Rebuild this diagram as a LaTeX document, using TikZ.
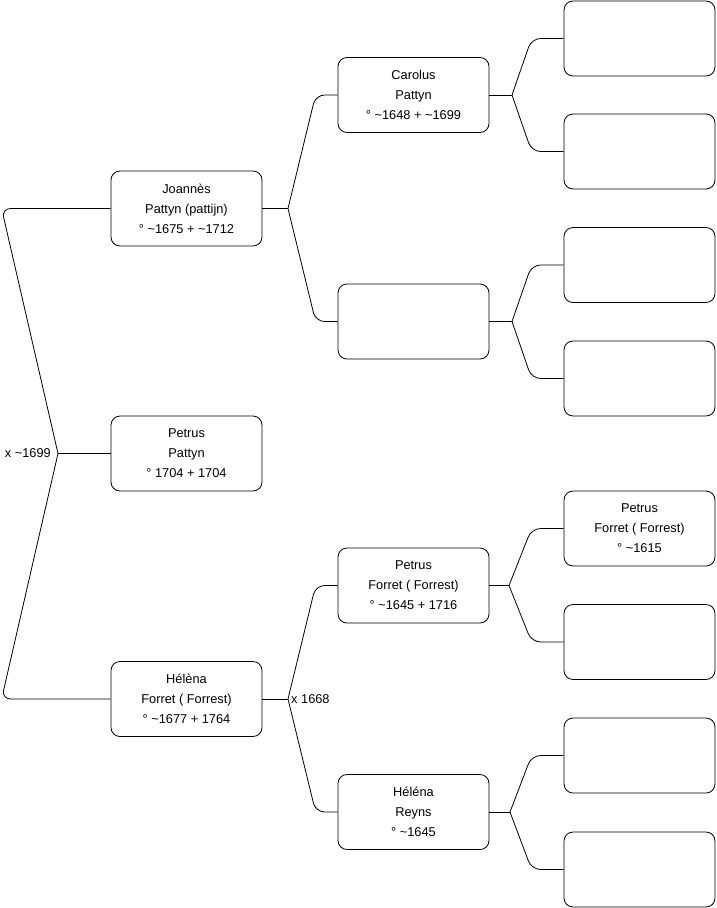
\documentclass[tikz,border=0pt]{standalone}
\usepackage{fontspec}
\setmainfont{Liberation Sans}
\usepackage{tikz}
\usetikzlibrary{positioning}

\begin{document}
\begin{tikzpicture}[
  x=1pt, y=-1pt,
  person/.style={draw,rounded corners=9pt,align=center,minimum width=151pt,minimum height=75pt,line width=0.8pt,font=\fontsize{12.8}{20}\selectfont,inner sep=0pt},
  link/.style={line width=0.8pt,rounded corners=9pt},
  note/.style={font=\fontsize{12.8}{14}\selectfont,inner sep=1pt}
]
\useasboundingbox (0,0) rectangle (716,908);

\node[person] (joannes) at (186.5,208.5) {Joannès\\Pattyn (pattijn)\\° \textasciitilde1675 + \textasciitilde1712};
\node[person] (petrus) at (186.5,453.5) {Petrus\\Pattyn\\° 1704 + 1704};
\node[person] (helena) at (186.5,699) {Hélèna\\Forret ( Forrest)\\° \textasciitilde1677 + 1764};

\node[person] (carolus) at (413.5,95) {Carolus\\Pattyn\\° \textasciitilde1648 + \textasciitilde1699};
\node[person] (mother1) at (413.5,321.5) {};
\node[person] (petrusf) at (413.5,585.5) {Petrus\\Forret ( Forrest)\\° \textasciitilde1645 + 1716};
\node[person] (reyns) at (413.5,812) {Héléna\\Reyns\\° \textasciitilde1645};

\node[person] (gp1) at (639.5,38.5) {};
\node[person] (gp2) at (639.5,151.5) {};
\node[person] (gp3) at (639.5,265) {};
\node[person] (gp4) at (639.5,378.5) {};
\node[person] (gp5) at (639.5,528.5) {Petrus\\Forret ( Forrest)\\° \textasciitilde1615};
\node[person] (gp6) at (639.5,642) {};
\node[person] (gp7) at (639.5,755.5) {};
\node[person] (gp8) at (639.5,869.5) {};

\coordinate (root) at (58,453.5);
\coordinate (jj) at (288,208.5);
\coordinate (jh) at (288,699);
\coordinate (jc) at (512,95);
\coordinate (jm) at (512,321.5);
\coordinate (jp) at (509,585.5);
\coordinate (jr) at (510,812);

\draw[link] (root) -- ([xshift=-109pt]joannes.west) -- (joannes.west);
\draw[link] (root) -- (petrus.west);
\draw[link] (root) -- ([xshift=-109pt]helena.west) -- (helena.west);
\node[note,left=6pt of root] (m1) {x \textasciitilde1699};

\draw[link] (joannes.east) -- (jj);
\draw[link] (jj) -- ([xshift=-22pt]carolus.west) -- (carolus.west);
\draw[link] (jj) -- ([xshift=-22pt]mother1.west) -- (mother1.west);

\draw[link] (helena.east) -- (jh);
\draw[link] (jh) -- ([xshift=-22pt]petrusf.west) -- (petrusf.west);
\draw[link] (jh) -- ([xshift=-22pt]reyns.west) -- (reyns.west);
\node[note,right=2pt of jh] (m2) {x 1668};

\draw[link] (carolus.east) -- (jc);
\draw[link] (jc) -- ([xshift=-32pt]gp1.west) -- (gp1.west);
\draw[link] (jc) -- ([xshift=-32pt]gp2.west) -- (gp2.west);

\draw[link] (mother1.east) -- (jm);
\draw[link] (jm) -- ([xshift=-32pt]gp3.west) -- (gp3.west);
\draw[link] (jm) -- ([xshift=-32pt]gp4.west) -- (gp4.west);

\draw[link] (petrusf.east) -- (jp);
\draw[link] (jp) -- ([xshift=-32pt]gp5.west) -- (gp5.west);
\draw[link] (jp) -- ([xshift=-32pt]gp6.west) -- (gp6.west);

\draw[link] (reyns.east) -- (jr);
\draw[link] (jr) -- ([xshift=-32pt]gp7.west) -- (gp7.west);
\draw[link] (jr) -- ([xshift=-32pt]gp8.west) -- (gp8.west);
\end{tikzpicture}
\end{document}
